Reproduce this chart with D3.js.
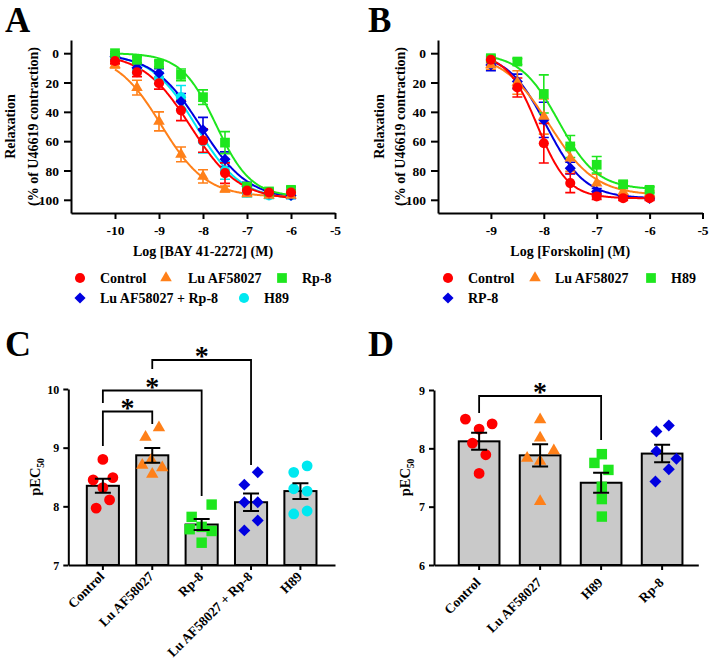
<!DOCTYPE html>
<html><head><meta charset="utf-8">
<script src="https://cdn.jsdelivr.net/npm/d3@7"></script>
<style>body{margin:0;background:#fff}</style>
</head><body><svg id="c" width="709" height="661"></svg>
<script>
// ---------------- DATA ----------------
// Panel A: BAY 41-2272
const logA = [-10,-9.5,-9,-8.5,-8,-7.5,-7,-6.5,-6];
const aControl = [5.3,13,20.5,39,59.6,81.8,93.7,95,95];
const aControlErr = [2,3,4,7,8,7,3,2,2];
const aLu = [8,23.5,46.5,69,84,92.7,96,97,97];
const aLuErr = [2,5,6.5,5,4.5,2,1.5,1,1];
const aRp8 = [0,4.5,7.3,14.8,30,61,91,94.3,93.2];
const aRp8Err = [1,2,2,4,5,7.5,2,2,2];
const aLuRp8 = [2.3,10,13.6,33,52.3,72.3,91,96,97];
const aLuRp8Err = [2,3,3,5.5,8.5,5,3,2,2];
const aH89 = [3,11,17,30,60,80,95,97,97];
const aH89Err = [2,3,4,8,8,6,3,2,2];
const aNames = ["Control","Lu AF58027","Rp-8","Lu AF58027 + Rp-8","H89"];
// fitted curve parameters (same order as aNames)
const aLogEC50 = [-8.28,-8.95,-7.7,-8.05,-8.15];
const aHill = [0.8,0.85,1.1,0.8,0.85];
const aTop = [100,98,98,100,100];
const aBottom = [0,0,0,0,0];

// Panel B: Forskolin
const logB = [-9,-8.5,-8,-7.5,-7,-6.5,-6];
const bControl = [4.5,23.4,61.4,88.6,97.7,98.9,98.9];
const bControlErr = [2,6.5,13.5,6.5,2,1.5,1.5];
const bLu = [8,20,43.2,71.6,88.6,94.5,96];
const bLuErr = [3,8,12,9,6,2,2];
const bH89 = [3.4,5.7,27.8,63.6,76.1,89.4,93.2];
const bH89Err = [2,2,13,7.5,5.6,2,2];
const bRp8 = [8,19.3,45.5,78.4,94.3,98,99];
const bRp8Err = [4,5,12,4,2,1,1];
const bNames = ["Control","Lu AF58027","H89","RP-8"];
const bLogEC50 = [-8.12,-7.9,-7.72,-7.95];
const bHill = [1.5,1.0,1.2,1.2];
const bTop = [99,97,93,99];
const bBottom = [0,0,0,0];

// Panel C: pEC50 BAY 41-2272
const cCategories = ["Control","Lu AF58027","Rp-8","Lu AF58027 + Rp-8","H89"];
const cMeans = [8.35,8.87,7.69,8.07,8.26];
const cSem = [0.12,0.126,0.094,0.149,0.134];
const cControlPts = [8.80,8.45,8.49,8.32,7.97,8.11];
const cLuPts = [9.18,9.34,8.70,8.66,8.55,8.79];
const cRp8Pts = [8.03,7.82,7.61,7.58,7.38,7.65];
const cLuRp8Pts = [8.58,8.37,8.07,8.07,7.76,7.59];
const cH89Pts = [8.69,8.58,8.30,8.26,7.87,7.92];
const cComparisons = [["Control","Lu AF58027"],["Control","Rp-8"],["Lu AF58027","Lu AF58027 + Rp-8"]];

// Panel D: pEC50 Forskolin
const dCategories = ["Control","Lu AF58027","H89","Rp-8"];
const dMeans = [8.12,7.88,7.41,7.91];
const dSem = [0.146,0.19,0.17,0.15];
const dControlPts = [8.50,8.42,8.33,8.09,7.89,7.57];
const dLuPts = [8.49,8.18,7.96,7.83,7.78,7.09];
const dH89Pts = [7.90,7.75,7.63,7.34,7.13,6.83];
const dRp8Pts = [8.39,8.29,7.95,7.82,7.64,7.43];
const dComparisons = [["Control","H89"]];

const yTicksA = [0,20,40,60,80,100];
const xTicksA = [-10,-9,-8,-7,-6,-5];
const xTicksB = [-9,-8,-7,-6,-5];
const yTicksC = [7,8,9,10];
const yTicksD = [6,7,8,9];

// ---------------- STYLE / LAYOUT ----------------
const FONT = '"Liberation Serif","Times New Roman",serif';
const COL = {red:"#ff0000", orange:"#ff8019", green:"#1ee61e", blue:"#0000e0", cyan:"#00e8f0"};
const svg = d3.select("#c");

function txt(g, x, y, s, size, anchor){
  return g.append("text").attr("x",x).attr("y",y).text(s)
    .attr("font-family",FONT).attr("font-weight","bold").attr("font-size",size)
    .attr("text-anchor",anchor||"start").attr("fill","#000");
}
function styleAxis(g, fs){
  g.select(".domain").attr("stroke","#000").attr("stroke-width",2);
  g.selectAll(".tick line").attr("stroke","#000").attr("stroke-width",2);
  g.selectAll(".tick text").attr("font-family",FONT).attr("font-weight","bold")
    .attr("font-size",fs).attr("fill","#000");
}
function marker(g, shape, color, x, y, k){
  k = k || 1;
  let p, rot = 0;
  if (shape==="circle") p = d3.symbol(d3.symbolCircle, 80*k)();
  else if (shape==="square") p = d3.symbol(d3.symbolSquare, 95*k)();
  else if (shape==="triangle") p = d3.symbol(d3.symbolTriangle, 58*k)();
  else { p = d3.symbol(d3.symbolSquare, 62*k)(); rot = 45; }
  g.append("path").attr("d",p).attr("fill",color)
    .attr("transform",`translate(${x},${y}) rotate(${rot})`);
}
function sig(x, i, ec, h, top, bot){
  return bot[i] + (top[i]-bot[i])/(1+Math.pow(10,(ec[i]-x)*h[i]));
}

// ---------- curve panel ----------
function curvePanel(o){
  const g = svg.append("g");
  const x = d3.scaleLinear().domain(o.xDomain).range(o.xRange);
  const y = d3.scaleLinear().domain([-9,109]).range([40,213]);
  const gx = g.append("g").attr("transform",`translate(0,${y.range()[1]})`)
    .call(d3.axisBottom(x).tickValues(o.xTicks).tickFormat(d=>String(d)).tickSize(6).tickSizeOuter(0).tickPadding(6));
  styleAxis(gx, 13.5);
  const gy = g.append("g").attr("transform",`translate(${o.xRange[0]},0)`)
    .call(d3.axisLeft(y).tickValues(yTicksA).tickSize(7).tickSizeOuter(0).tickPadding(5));
  styleAxis(gy, 13.5);
  gy.selectAll(".tick text").attr("dy","0.35em");
  txt(g, (o.xRange[0]+o.xRange[1])/2, 256, o.xTitle, 14, "middle");
  const cy = (y.range()[0]+y.range()[1])/2;
  txt(g, 0, 0, "Relaxation", 14, "middle").attr("transform",`translate(${o.yT1},${cy}) rotate(-90)`);
  txt(g, 0, 0, "(% of U46619 contraction)", 14, "middle").attr("transform",`translate(${o.yT2},${cy}) rotate(-90)`);
  txt(g, o.labelX, 31.5, o.label, 35);
  const line = d3.line().x(d=>x(d[0])).y(d=>y(d[1]));
  o.order.forEach(i=>{
    const s = o.series[i];
    const xs = d3.range(o.logs[0], o.logs[o.logs.length-1]+0.001, 0.02);
    g.append("path").attr("fill","none").attr("stroke",s.color).attr("stroke-width",2)
      .attr("d", line(xs.map(v=>[v, sig(v,i,o.ec,o.h,o.top,o.bot)])));
    o.logs.forEach((lx,j)=>{
      const v = s.vals[j], e = s.err[j], px = x(lx);
      g.append("path").attr("fill","none").attr("stroke",s.color).attr("stroke-width",1.6)
        .attr("d",`M${px},${y(v-e)}V${y(v+e)}M${px-5},${y(v-e)}H${px+5}M${px-5},${y(v+e)}H${px+5}`);
    });
  });
  o.order.forEach(i=>{
    const s = o.series[i];
    o.logs.forEach((lx,j)=> marker(g, s.shape, s.color, x(lx), y(s.vals[j])));
  });
  // legend
  o.legend.forEach(l=>{
    const s = o.series[l.i];
    marker(g, s.shape, s.color, l.mx, l.y);
    txt(g, l.tx, l.y+5, o.names[l.i], 14);
  });
}

curvePanel({
  label:"A", labelX:5, xDomain:[-11,-5], xRange:[71,335], xTicks:xTicksA, logs:logA,
  xTitle:"Log [BAY 41-2272] (M)", yT1:15, yT2:38, names:aNames,
  ec:aLogEC50, h:aHill, top:aTop, bot:aBottom,
  series:[
    {vals:aControl, err:aControlErr, color:COL.red, shape:"circle"},
    {vals:aLu, err:aLuErr, color:COL.orange, shape:"triangle"},
    {vals:aRp8, err:aRp8Err, color:COL.green, shape:"square"},
    {vals:aLuRp8, err:aLuRp8Err, color:COL.blue, shape:"diamond"},
    {vals:aH89, err:aH89Err, color:COL.cyan, shape:"circle"}],
  order:[4,3,1,2,0],
  legend:[{i:0,mx:80,tx:100,y:278},{i:1,mx:166,tx:188,y:278},{i:2,mx:282,tx:302,y:278},
          {i:3,mx:80,tx:100,y:298},{i:4,mx:244,tx:264,y:298}]
});
curvePanel({
  label:"B", labelX:368, xDomain:[-10,-5], xRange:[438,702.5], xTicks:xTicksB, logs:logB,
  xTitle:"Log [Forskolin] (M)", yT1:384, yT2:405, names:bNames,
  ec:bLogEC50, h:bHill, top:bTop, bot:bBottom,
  series:[
    {vals:bControl, err:bControlErr, color:COL.red, shape:"circle"},
    {vals:bLu, err:bLuErr, color:COL.orange, shape:"triangle"},
    {vals:bH89, err:bH89Err, color:COL.green, shape:"square"},
    {vals:bRp8, err:bRp8Err, color:COL.blue, shape:"diamond"}],
  order:[3,1,2,0],
  legend:[{i:0,mx:448,tx:468,y:278},{i:1,mx:535,tx:555,y:278},{i:2,mx:651,tx:671,y:278},
          {i:3,mx:448,tx:468,y:298}]
});

// ---------- bar panels ----------
function barPanel(o){
  const g = svg.append("g");
  const x = d3.scaleBand().domain(o.cats).range(o.xRange).paddingInner(o.pi).paddingOuter(o.po).align(o.align);
  const y = d3.scaleLinear().domain(o.yDomain).range([565,o.yTop]);
  g.selectAll("rect.bar").data(o.cats).enter().append("rect")
    .attr("x",d=>x(d)).attr("width",x.bandwidth())
    .attr("y",(d,i)=>y(o.means[i])).attr("height",(d,i)=>565-y(o.means[i]))
    .attr("fill","#c9c9c9").attr("stroke","#000").attr("stroke-width",2);
  o.cats.forEach((c,i)=>{
    const cx = x(c)+x.bandwidth()/2;
    o.pts[i].forEach((v,j)=> marker(g, o.shapes[i], o.colors[i], cx+o.jit[i][j], y(v), 1.15));
  });
  o.cats.forEach((c,i)=>{
    const cx = x(c)+x.bandwidth()/2, m=o.means[i], e=o.sem[i];
    g.append("path").attr("fill","none").attr("stroke","#000").attr("stroke-width",2)
      .attr("d",`M${cx},${y(m-e)}V${y(m+e)}M${cx-8},${y(m-e)}H${cx+8}M${cx-8},${y(m+e)}H${cx+8}`);
  });
  const gx = g.append("g").attr("transform","translate(0,565)")
    .call(d3.axisBottom(x).tickSize(5).tickSizeOuter(0).tickFormat(""));
  styleAxis(gx, 13);
  o.cats.forEach(c=>{
    const cx = x(c)+x.bandwidth()/2;
    txt(g,0,0,c,13.5,"end").attr("dy","0.35em")
      .attr("transform",`translate(${cx-1},${o.labY}) rotate(-45)`);
  });
  const gy = g.append("g").attr("transform",`translate(${o.xRange[0]},0)`)
    .call(d3.axisLeft(y).tickValues(o.yTicks).tickFormat(d3.format("d")).tickSize(5).tickSizeOuter(0).tickPadding(4));
  styleAxis(gy, 12);
  gy.selectAll(".tick text").attr("dy","0.35em");
  const t = txt(g,0,0,"",14.5,"middle").attr("transform",`translate(${o.yT},${(565+o.yTop)/2}) rotate(-90)`);
  t.append("tspan").text("pEC");
  t.append("tspan").text("50").attr("font-size",9.5).attr("dy",4);
  txt(g, 5, o.labelY, o.label, 36).attr("x", o.labelX);
  // significance brackets
  o.brackets.forEach(b=>{
    const x1 = x(b.pair[0])+x.bandwidth()/2, x2 = x(b.pair[1])+x.bandwidth()/2;
    g.append("path").attr("fill","none").attr("stroke","#000").attr("stroke-width",1.8)
      .attr("d",`M${x1},${b.y1}V${b.top}H${x2}V${b.y2}`);
    txt(g,(x1+x2)/2,b.top-8+13,"*",28,"middle");
  });
}

barPanel({
  label:"C", labelX:5, labelY:356, cats:cCategories, means:cMeans, sem:cSem,
  pts:[cControlPts,cLuPts,cRp8Pts,cLuRp8Pts,cH89Pts],
  shapes:["circle","triangle","square","diamond","circle"],
  colors:[COL.red,COL.orange,COL.green,COL.blue,COL.cyan],
  jit:[[0,-9.7,10,0,-6.7,6.7],[-6.7,6.7,-10,10,0,-1],[10,-10,-12,10,0,0],
       [6.7,-6.7,-6.7,6.7,6.7,-6.7],[6.7,-6.7,-6.7,6.7,-6.7,6.7]],
  xRange:[68.3,335], pi:0.35, po:0.375, align:0.5,
  yDomain:[7,10], yTop:389, yTicks:yTicksC, yT:40, labY:574,
  brackets:[{pair:cComparisons[0],top:411.5,y1:446,y2:424},
            {pair:cComparisons[1],top:390.5,y1:403,y2:496},
            {pair:cComparisons[2],top:360,y1:369,y2:465}]
});
barPanel({
  label:"D", labelX:368, labelY:356, cats:dCategories, means:dMeans, sem:dSem,
  pts:[dControlPts,dLuPts,dH89Pts,dRp8Pts],
  shapes:["circle","triangle","square","diamond"],
  colors:[COL.red,COL.orange,COL.green,COL.blue],
  jit:[[-13.7,13,0,-6.7,6.7,0],[0,0,13.7,-13,0,0],[0.7,-6.7,7.3,0.7,0.7,0.7],[6.7,-5.7,-5.7,14.3,6.7,-6.7]],
  xRange:[434,698.3], pi:0.333, po:0.333, align:0.61,
  yDomain:[6,9], yTop:390, yTicks:yTicksD, yT:410, labY:580,
  brackets:[{pair:dComparisons[0],top:396,y1:413,y2:440}]
});
</script></body></html>
